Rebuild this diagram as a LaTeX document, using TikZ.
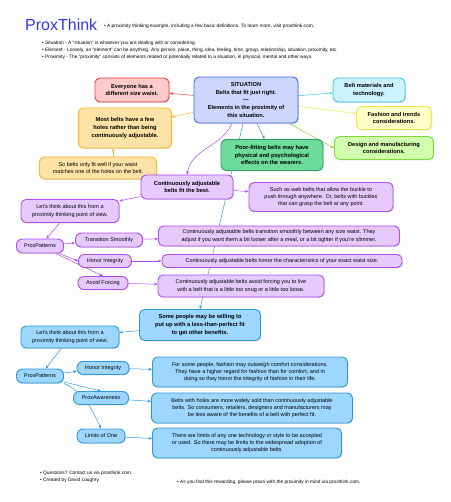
\documentclass[tikz,border=0pt]{standalone}
\usepackage{fontspec}
\setmainfont{Liberation Sans}
\usetikzlibrary{arrows.meta,shadows,backgrounds}

\definecolor{logoblue}{HTML}{3535F0}
\definecolor{sitfill}{HTML}{CCD6FF}
\definecolor{sitline}{HTML}{3A6BFF}
\definecolor{redfill}{HTML}{FFCACA}
\definecolor{redline}{HTML}{F23C3C}
\definecolor{orafill}{HTML}{FFE2A6}
\definecolor{oraline}{HTML}{FFB52E}
\definecolor{cyafill}{HTML}{CBF3FF}
\definecolor{cyaline}{HTML}{38C8F5}
\definecolor{yelfill}{HTML}{FFFFC8}
\definecolor{yelline}{HTML}{F5E548}
\definecolor{grnfill}{HTML}{D2FFAE}
\definecolor{grnline}{HTML}{7DDC3A}
\definecolor{tealfill}{HTML}{6DDB9C}
\definecolor{tealline}{HTML}{2F9A68}
\definecolor{purfill}{HTML}{E6C9FF}
\definecolor{purline}{HTML}{B04DEE}
\definecolor{blufill}{HTML}{9DD6FF}
\definecolor{bluline}{HTML}{2F97E0}

\begin{document}
\begin{tikzpicture}[x=1pt,y=1pt,
  box/.style={draw, rounded corners=5pt, line width=0.9pt, align=center,
    inner sep=1pt, font=\fontsize{5.5}{7.4}\selectfont,
    drop shadow={opacity=0.3, shadow xshift=0.8pt, shadow yshift=-0.8pt}},
  boldbox/.style={box, font=\bfseries\fontsize{5.7}{7.6}\selectfont},
  sitbox/.style={boldbox, fill=sitfill, draw=sitline},
  redbox/.style={boldbox, fill=redfill, draw=redline},
  orabox/.style={box, fill=orafill, draw=oraline},
  cyabox/.style={boldbox, fill=cyafill, draw=cyaline},
  yelbox/.style={boldbox, fill=yelfill, draw=yelline},
  grnbox/.style={boldbox, fill=grnfill, draw=grnline},
  tealbox/.style={boldbox, fill=tealfill, draw=tealline},
  purbox/.style={box, fill=purfill, draw=purline},
  blubox/.style={box, fill=blufill, draw=bluline},
  link/.style={-{Stealth[length=3.5pt,width=2.8pt]}, line width=0.5pt},
  note/.style={font=\fontsize{4.8}{7}\selectfont, inner sep=0pt, align=left}
]
\useasboundingbox (0,0) rectangle (450,-502);

% Header
\node[anchor=west, inner sep=0pt, text=logoblue, font=\fontsize{16}{16}\selectfont] (logo) at (25,-25) {ProxThink};
\node[note, anchor=west] (intro) at (104,-26) {• A proximity thinking example, including a few basic definitions. To learn more, visit proxthink.com.};
\node[note, anchor=north west] (defs) at (42,-41) {• Situation - A ``situation'' is whatever you are dealing with or considering.\\
• Element - Loosely, an ``element'' can be anything. Any person, place, thing, idea, feeling, time, group, relationship, situation, proximity, etc.\\
• Proximity - The ``proximity'' consists of elements related or potentially related to a situation, in physical, mental and other ways.};

% Situation and its proximity
\node[sitbox, minimum width=104pt, minimum height=46pt] (sit) at (246,-100) {SITUATION\\Belts that fit just right.\\—\\Elements in the proximity of\\this situation.};
\node[redbox, minimum width=74pt, minimum height=24pt] (every) at (132,-90) {Everyone has a\\different size waist.};
\node[orabox, font=\bfseries\fontsize{5.7}{7.6}\selectfont, minimum width=93pt, minimum height=40pt] (most) at (125,-128) {Most belts have a few\\holes rather than being\\continuously adjustable.};
\node[orabox, minimum width=117pt, minimum height=22pt] (so) at (98,-168) {So belts only fit well if your waist\\matches one of the holes on the belt.};
\node[cyabox, minimum width=72pt, minimum height=24pt] (mat) at (369,-90) {Belt materials and\\technology.};
\node[yelbox, minimum width=75pt, minimum height=23pt] (fash) at (394,-118) {Fashion and trends\\considerations.};
\node[grnbox, minimum width=99pt, minimum height=23pt] (design) at (384,-148) {Design and manufacturing\\considerations.};
\node[tealbox, minimum width=102pt, minimum height=31pt] (poor) at (272,-155) {Poor-fitting belts may have\\physical and psychological\\effects on the wearers.};

% Continuously adjustable belts
\node[purbox, font=\bfseries\fontsize{5.7}{7.6}\selectfont, minimum width=92pt, minimum height=24pt] (best) at (187,-187) {Continuously adjustable\\belts fit the best.};
\node[purbox, minimum width=144pt, minimum height=29pt] (web) at (321,-197) {Such as web belts that allow the buckle to\\push through anywhere. Or, belts with buckles\\that can grasp the belt at any point.};
\node[purbox, minimum width=98pt, minimum height=23pt] (think1) at (70,-211) {Let's think about this from a\\proximity thinking point of view.};
\node[purbox, minimum width=47pt, minimum height=14pt, rounded corners=6pt] (pp1) at (40,-246) {ProxPatterns};
\node[purbox, minimum width=67pt, minimum height=14pt, rounded corners=6pt] (trans) at (109,-240) {Transition Smoothly};
\node[purbox, minimum width=53pt, minimum height=13pt, rounded corners=6pt] (honor1) at (105,-261) {Honor Integrity};
\node[purbox, minimum width=50pt, minimum height=13pt, rounded corners=6pt] (avoid) at (103,-283) {Avoid Forcing};
\node[purbox, minimum width=241pt, minimum height=20pt] (transtext) at (279,-236) {Continuously adjustable belts transition smoothly between any size waist. They\\adjust if you want them a bit looser after a meal, or a bit tighter if you're slimmer.};
\node[purbox, minimum width=240pt, minimum height=13pt] (honortext1) at (282,-261) {Continuously adjustable belts honor the characteristics of your exact waist size.};
\node[purbox, minimum width=166pt, minimum height=22pt] (avoidtext) at (241,-286) {Continuously adjustable belts avoid forcing you to live\\with a belt that is a little too snug or a little too loose.};

% Less-than-perfect fit
\node[blubox, font=\bfseries\fontsize{5.7}{7.6}\selectfont, minimum width=121pt, minimum height=31pt] (some) at (200,-325) {Some people may be willing to\\put up with a less-than-perfect fit\\to get other benefits.};
\node[blubox, minimum width=98pt, minimum height=22pt] (think2) at (70,-337) {Let's think about this from a\\proximity thinking point of view.};
\node[blubox, minimum width=47pt, minimum height=14pt, rounded corners=6pt] (pp2) at (40,-376) {ProxPatterns};
\node[blubox, minimum width=52pt, minimum height=13pt, rounded corners=6pt] (honor2) at (103,-368) {Honor Integrity};
\node[blubox, minimum width=55pt, minimum height=13pt, rounded corners=6pt] (aware) at (101,-398) {ProxAwareness};
\node[blubox, minimum width=48pt, minimum height=14pt, rounded corners=6pt] (limits) at (101,-436) {Limits of One};
\node[blubox, minimum width=195pt, minimum height=30pt] (fashtext) at (250,-372) {For some people, fashion may outweigh comfort considerations.\\They have a higher regard for fashion than for comfort, and in\\doing so they honor the integrity of fashion in their life.};
\node[blubox, minimum width=201pt, minimum height=30pt] (awaretext) at (252,-408) {Belts with holes are more widely sold than continuously adjustable\\belts. So consumers, retailers, designers and manufacturers may\\be less aware of the benefits of a belt with perfect fit.};
\node[blubox, minimum width=189pt, minimum height=30pt] (limitstext) at (247,-443) {There are limits of any one technology or style to be accepted\\or used. So there may be limits to the widespread adoption of\\continuously adjustable belts.};

% Footer
\node[note, anchor=north west] (contact) at (40,-471) {• Questions? Contact us via proxthink.com.\\• Created by David Loughry.};
\node[note, anchor=west] (reward) at (177,-482) {• As you find this rewarding, please proxri with the proximity in mind via proxthink.com.};

% Connectors
\begin{scope}[on background layer]
\draw[link, redline] (sit) -- (every);
\draw[link, oraline] (sit) -- (most);
\draw[link, oraline] ([xshift=15pt]so.north) -- ([xshift=-12pt]most.south);
\draw[link, cyaline] (sit) -- (mat);
\draw[link, yelline] (sit) -- (fash);
\draw[link, grnline] (sit) -- (design.west);
\draw[link, tealline] (sit) -- (poor);
\draw[link, purline] ([xshift=-14pt]sit.south) to[out=-115, in=80] (best.north);
\draw[link, bluline] ([xshift=-3pt]sit.south) -- (some.north);

\draw[link, purline] (best) -- (web);
\draw[link, purline] (best) -- (think1);
\draw[link, purline] (think1) -- (pp1);
\draw[link, purline] (pp1) -- (trans);
\draw[link, purline] (pp1) -- (honor1.west);
\draw[link, purline] (pp1) -- (avoid.north);
\draw[link, purline] (trans) -- (transtext);
\draw[link, purline] (honor1) -- (honortext1);
\draw[link, purline] (avoid) -- (avoidtext);

\draw[link, bluline] (some) -- (think2);
\draw[link, bluline] (think2) -- (pp2);
\draw[link, bluline] (pp2) -- (honor2);
\draw[link, bluline] (pp2) -- (aware.north);
\draw[link, bluline] (pp2.south east) to[out=-25, in=115] (limits.north);
\draw[link, bluline] (honor2) -- (fashtext);
\draw[link, bluline] (aware) -- (awaretext);
\draw[link, bluline] (limits) -- (limitstext);
\end{scope}

\end{tikzpicture}
\end{document}
